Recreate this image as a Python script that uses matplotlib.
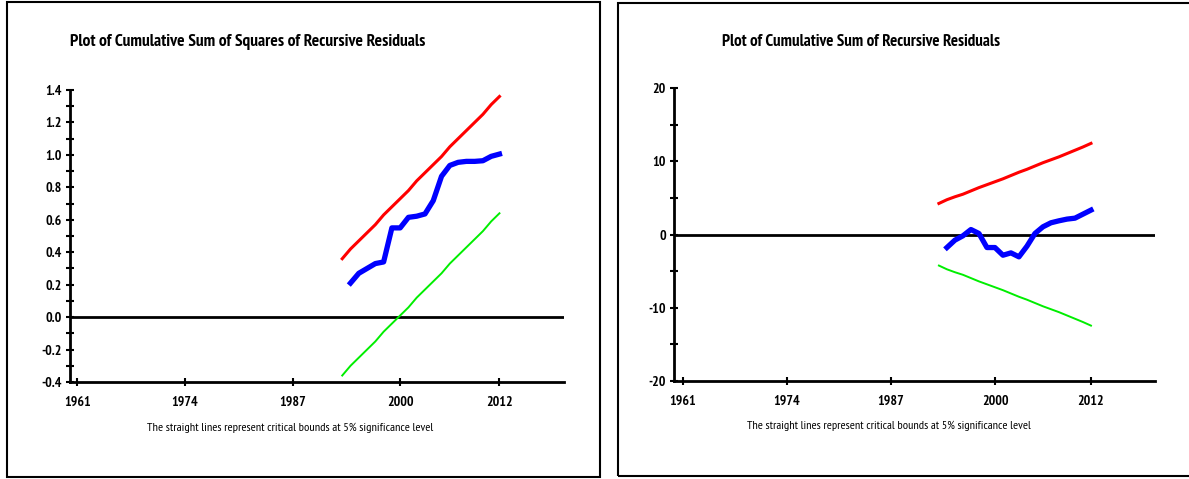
import matplotlib
matplotlib.use("Agg")
import matplotlib.pyplot as plt
from matplotlib.patches import Rectangle
from matplotlib.ticker import MultipleLocator

FONT = ['PT Sans Narrow', 'Archivo Narrow', 'DejaVu Sans']
plt.rcParams['font.family'] = FONT
plt.rcParams['font.stretch'] = 'condensed'

# ---------------- data ----------------
years_bounds = [1993, 1994, 1995, 1996, 1997, 1998, 1999, 2000, 2001, 2002,
                2003, 2004, 2005, 2006, 2007, 2008, 2009, 2010, 2011, 2012]
years_stat = years_bounds[1:]

# Cumulative sum of squares of recursive residuals
cusumsq = [0.21, 0.27, 0.30, 0.33, 0.34, 0.55, 0.55, 0.615, 0.622, 0.636,
           0.718, 0.868, 0.935, 0.954, 0.960, 0.960, 0.964, 0.991, 1.005]
cusumsq_upper = [0.36, 0.42, 0.47, 0.52, 0.57, 0.63, 0.68, 0.73, 0.78, 0.84,
                 0.89, 0.94, 0.99, 1.05, 1.10, 1.15, 1.20, 1.25, 1.31, 1.36]
cusumsq_lower = [-0.36, -0.30, -0.25, -0.20, -0.15, -0.09, -0.04, 0.01, 0.06, 0.12,
                 0.17, 0.22, 0.27, 0.33, 0.38, 0.43, 0.48, 0.53, 0.59, 0.64]

# Cumulative sum of recursive residuals
cusum = [-1.78, -0.77, -0.18, 0.68, 0.14, -1.78, -1.78, -2.83, -2.51, -3.05,
         -1.60, 0.14, 1.05, 1.60, 1.87, 2.10, 2.23, 2.78, 3.33]
cusum_upper = [4.24, 4.75, 5.15, 5.50, 5.95, 6.40, 6.80, 7.20, 7.60, 8.05,
               8.50, 8.90, 9.35, 9.80, 10.20, 10.60, 11.05, 11.50, 11.95, 12.44]
cusum_lower = [-4.24, -4.75, -5.15, -5.50, -5.95, -6.40, -6.80, -7.20, -7.60, -8.05,
               -8.50, -8.90, -9.35, -9.80, -10.20, -10.60, -11.05, -11.50, -11.95, -12.44]

x_ticks = [1961, 1974, 1987, 2000, 2012]
x_ticklabels = ['1961', '1974', '1987', '2000', '2012']

left_yticks = [-0.4, -0.2, 0.0, 0.2, 0.4, 0.6, 0.8, 1.0, 1.2, 1.4]
left_yticklabels = ['-0.4', '-0.2', '0.0', '0.2', '0.4', '0.6', '0.8', '1.0', '1.2', '1.4']
right_yticks = [-20, -10, 0, 10, 20]
right_yticklabels = ['-20', '-10', '0', '10', '20']

title_left = 'Plot of Cumulative Sum of Squares of Recursive Residuals'
title_right = 'Plot of Cumulative Sum of Recursive Residuals'
note = 'The straight lines represent critical bounds at 5% significance level'

# ---------------- figure ----------------
W, H = 1189, 479
fig = plt.figure(figsize=(W / 100, H / 100), dpi=100)
fig.patch.set_facecolor('white')


def fx(px):
    return px / W


def fy(py):
    return 1 - py / H


# frames
fig.patches.append(Rectangle((fx(7), fy(477)), fx(600) - fx(7), fy(2) - fy(477),
                             transform=fig.transFigure, fill=False,
                             edgecolor='black', linewidth=1.5))
fig.patches.append(Rectangle((fx(618), fy(476)), fx(1195) - fx(618), fy(3) - fy(476),
                             transform=fig.transFigure, fill=False,
                             edgecolor='black', linewidth=1.5, clip_on=False))


def style_axes(ax, yticks, yticklabels, minor_step):
    for s in ['top', 'right']:
        ax.spines[s].set_visible(False)
    for s in ['left', 'bottom']:
        ax.spines[s].set_linewidth(2.0)
        ax.spines[s].set_color('black')
    ax.set_xticks(x_ticks)
    ax.set_xticklabels(x_ticklabels)
    ax.set_yticks(yticks)
    ax.set_yticklabels(yticklabels)
    ax.yaxis.set_minor_locator(MultipleLocator(minor_step))
    ax.tick_params(axis='both', which='both', direction='inout', length=6,
                   width=1.5, color='black')
    ax.tick_params(axis='x', pad=7)
    ax.tick_params(axis='y', pad=3)
    for lab in ax.get_xticklabels() + ax.get_yticklabels():
        lab.set_fontsize(10)
        lab.set_fontweight('bold')
    ax.patch.set_alpha(0)


# ---- left panel ----
axL = fig.add_axes([fx(70), fy(382), fx(564) - fx(70), fy(90) - fy(382)])
axL.set_xlim(1960.1, 2019.8)
axL.set_ylim(-0.4, 1.4)
axL.axhline(0, color='black', linewidth=2.0, zorder=1)
axL.plot(years_bounds, cusumsq_upper, color='#ff0000', linewidth=2.2, zorder=3)
axL.plot(years_bounds, cusumsq_lower, color='#00ee00', linewidth=1.4, zorder=3)
axL.plot(years_stat, cusumsq, color='#0000ff', linewidth=3.8, zorder=4)
style_axes(axL, left_yticks, left_yticklabels, 0.1)

# ---- right panel ----
axR = fig.add_axes([fx(674), fy(381), fx(1155) - fx(674), fy(88) - fy(381)])
axR.set_xlim(1959.9, 2020.0)
axR.set_ylim(-20, 20)
axR.axhline(0, color='black', linewidth=2.0, zorder=1)
axR.plot(years_bounds, cusum_upper, color='#ff0000', linewidth=2.2, zorder=3)
axR.plot(years_bounds, cusum_lower, color='#00ee00', linewidth=1.4, zorder=3)
axR.plot(years_stat, cusum, color='#0000ff', linewidth=3.8, zorder=4)
style_axes(axR, right_yticks, right_yticklabels, 5)

# titles and notes (font size fitted to the reference text widths)
renderer = fig.canvas.get_renderer()


def fitted_text(x, y, s, width_px, size, ha, **kw):
    t = fig.text(fx(x), fy(y), s, fontsize=size, ha=ha, va='center', **kw)
    w = t.get_window_extent(renderer).width
    if w > 0:
        t.set_fontsize(size * width_px / w)
    return t


fitted_text(70, 42, title_left, 355, 12, 'left', fontweight='bold')
fitted_text(722, 42, title_right, 278, 12, 'left', fontweight='bold')
fitted_text(290, 428, note, 286, 9, 'center')
fitted_text(889, 426, note, 281, 9, 'center')

fig.savefig('out.png', dpi=100, facecolor='white')
